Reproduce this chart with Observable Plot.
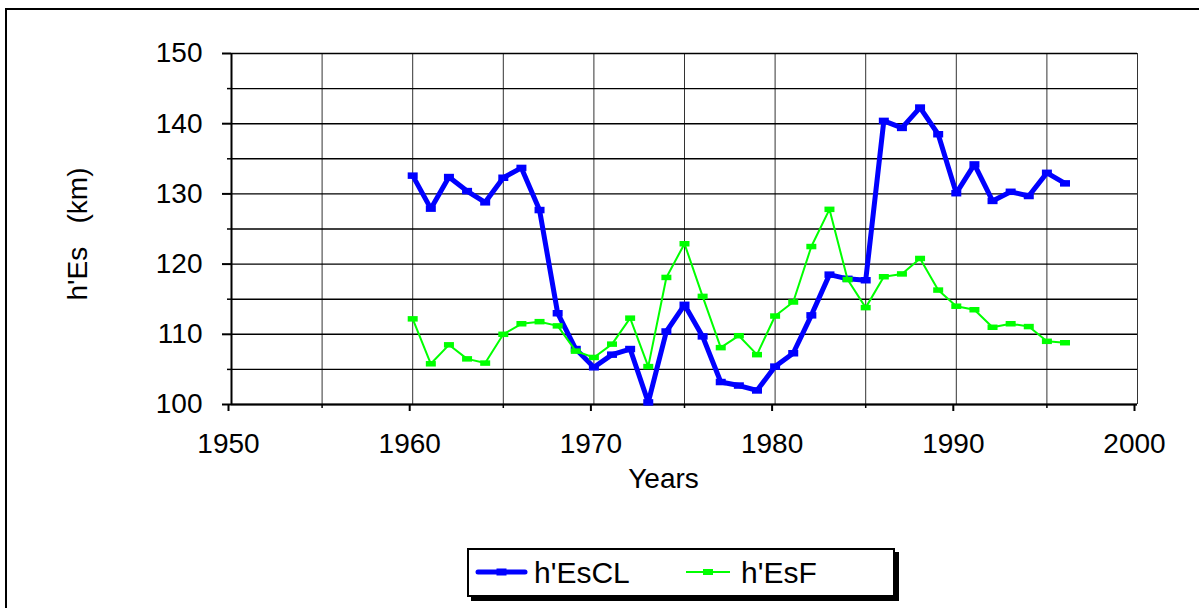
<!DOCTYPE html>
<html>
<head>
<meta charset="utf-8">
<script src="https://cdn.jsdelivr.net/npm/d3@7"></script>
<script src="https://cdn.jsdelivr.net/npm/@observablehq/plot@0.6"></script>
<style>
  html, body { margin: 0; padding: 0; background: white; overflow: hidden; width: 1199px; height: 608px; }
  #frame { position: absolute; left: 5px; top: 8px; width: 1400px; height: 800px; border: 2px solid black; box-sizing: border-box; }
  #chart { position: absolute; left: 0; top: 0; }
  #legend { position: absolute; left: 467px; top: 548px; width: 428px; height: 49px; border: 2px solid black; box-sizing: border-box; background: white; box-shadow: 4px 4px 0 black; }
  #legend svg { position: absolute; left: 0; top: 0; }
  text { font-family: "Liberation Sans", Arial, sans-serif; }
</style>
</head>
<body>
<div id="frame"></div>
<div id="chart"></div>
<div id="legend"></div>
<script>
const years = [1960,1961,1962,1963,1964,1965,1966,1967,1968,1969,1970,1971,1972,1973,1974,1975,1976,1977,1978,1979,1980,1981,1982,1983,1984,1985,1986,1987,1988,1989,1990,1991,1992,1993,1994,1995,1996];
const hEsCL = [132.6,127.9,132.4,130.4,128.8,132.3,133.7,127.7,113.0,107.9,105.3,107.1,107.9,100.3,110.4,114.2,109.7,103.2,102.7,102.0,105.4,107.3,112.7,118.5,117.9,117.7,140.4,139.4,142.3,138.5,130.1,134.2,129.0,130.3,129.7,133.0,131.5];
const hEsF = [112.2,105.8,108.5,106.5,105.9,110.0,111.5,111.8,111.2,107.6,106.7,108.6,112.3,105.4,118.1,122.9,115.4,108.1,109.8,107.1,112.6,114.6,122.5,127.8,117.8,113.8,118.2,118.6,120.8,116.3,114.0,113.5,111.0,111.5,111.1,109.0,108.8];
const seriesNames = ["h'EsCL", "h'EsF"];
const seriesColors = ["#0000ff", "#00ff00"];
const xMajorTicks = [1950,1960,1970,1980,1990,2000];
const xMinorTicks = [1955,1965,1975,1985,1995];
const xGrid = [1950,1955,1960,1965,1970,1975,1980,1985,1990,1995,2000];
const yMajorTicks = [100,110,120,130,140,150];
const yMinorTicks = [105,115,125,135,145];
const yGrid = [100,105,110,115,120,125,130,135,140,145,150];
const xLabel = "Years";
const yLabel = "h'Es\u00a0\u00a0 (km)";

const dataCL = years.map((y, i) => ({year: y, value: hEsCL[i]}));
const dataF = years.map((y, i) => ({year: y, value: hEsF[i]}));

function rectSymbol(w, h) {
  return { draw(context) { context.rect(-w / 2, -h / 2, w, h); } };
}

const plot = Plot.plot({
  width: 1199,
  height: 608,
  marginLeft: 231,
  marginRight: 62,
  marginTop: 53,
  marginBottom: 204,
  style: { fontFamily: "Liberation Sans, Arial, sans-serif", color: "black", background: "transparent", overflow: "visible" },
  x: { domain: [1950, 2000] },
  y: { domain: [100, 150] },
  marks: [
    Plot.gridX(xGrid, { stroke: "#333", strokeOpacity: 1, strokeWidth: 1 }),
    Plot.gridY(yGrid, { stroke: "black", strokeOpacity: 1, strokeWidth: 1.4 }),
    Plot.ruleX([1950], { stroke: "black", strokeWidth: 2 }),
    Plot.ruleY([100], { stroke: "black", strokeWidth: 2 }),
    Plot.axisY(yMajorTicks, { tickSize: 9, tickPadding: 20, fontSize: 28, label: null, strokeWidth: 2 }),
    Plot.axisY(yMinorTicks, { tickSize: 4, tickFormat: () => "", label: null, strokeWidth: 1.5 }),
    Plot.axisX(xMajorTicks, { tickSize: 7, tickPadding: 22, fontSize: 28, label: null, tickFormat: d => String(d), dx: -3, strokeWidth: 2 }),
    Plot.axisX(xMinorTicks, { tickSize: 4, tickFormat: () => "", label: null, strokeWidth: 1.5 }),
    Plot.line(dataCL, { x: "year", y: "value", stroke: seriesColors[0], strokeWidth: 5, strokeLinejoin: "miter" }),
    Plot.dot(dataCL, { x: "year", y: "value", fill: seriesColors[0], stroke: null, symbol: rectSymbol(10, 6.5) }),
    Plot.line(dataF, { x: "year", y: "value", stroke: seriesColors[1], strokeWidth: 2 }),
    Plot.dot(dataF, { x: "year", y: "value", fill: seriesColors[1], stroke: null, symbol: rectSymbol(10, 5.5) }),
    Plot.text([xLabel], { frameAnchor: "bottom", textAnchor: "middle", lineAnchor: "middle", dx: -21, dy: 75, fontSize: 28, fill: "black" }),
    Plot.text([yLabel], { frameAnchor: "left", textAnchor: "middle", lineAnchor: "middle", dx: -153, dy: 5, rotate: -90, fontSize: 28, fill: "black" })
  ]
});
document.getElementById("chart").appendChild(plot);

// Legend
const ns = "http://www.w3.org/2000/svg";
const lsvg = document.createElementNS(ns, "svg");
lsvg.setAttribute("width", 428);
lsvg.setAttribute("height", 49);
const entries = [
  { x0: 9, x1: 56, tx: 65, w: 5, mw: 10, mh: 7 },
  { x0: 217, x1: 261, tx: 272, w: 2, mw: 10, mh: 6 }
];
entries.forEach((e, i) => {
  const ln = document.createElementNS(ns, "line");
  ln.setAttribute("x1", e.x0); ln.setAttribute("x2", e.x1);
  ln.setAttribute("y1", 22); ln.setAttribute("y2", 22);
  ln.setAttribute("stroke", seriesColors[i]);
  ln.setAttribute("stroke-width", e.w);
  ln.setAttribute("stroke-linecap", i === 0 ? "round" : "butt");
  lsvg.appendChild(ln);
  const r = document.createElementNS(ns, "rect");
  const cx = (e.x0 + e.x1) / 2;
  r.setAttribute("x", cx - e.mw / 2); r.setAttribute("y", 22 - e.mh / 2);
  r.setAttribute("width", e.mw); r.setAttribute("height", e.mh);
  r.setAttribute("fill", seriesColors[i]);
  lsvg.appendChild(r);
  const t = document.createElementNS(ns, "text");
  t.setAttribute("x", e.tx); t.setAttribute("y", 33);
  t.setAttribute("font-size", 30);
  t.setAttribute("fill", "black");
  t.textContent = seriesNames[i];
  lsvg.appendChild(t);
});
document.getElementById("legend").appendChild(lsvg);
</script>
</body>
</html>
